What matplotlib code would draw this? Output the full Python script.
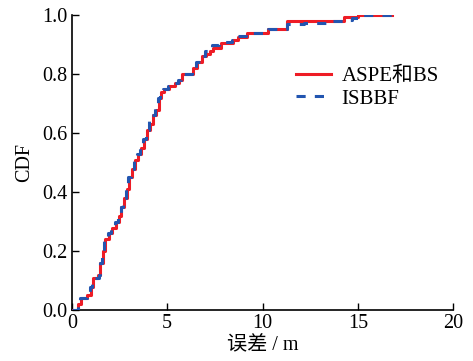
import matplotlib
matplotlib.use("Agg")
import matplotlib.pyplot as plt

plt.rcParams['font.family'] = ['Liberation Serif', 'Noto Sans CJK SC', 'DejaVu Sans']

aspe_x = [0, 0.3, 0.5, 0.8, 1.0, 1.1, 1.35, 1.45, 1.65, 1.75, 1.95, 2.1, 2.3, 2.45, 2.6, 2.75,
          2.9, 3.0, 3.15, 3.3, 3.45, 3.6, 3.8, 3.95, 4.1, 4.25, 4.4, 4.55, 4.65, 4.85, 5.1, 5.4,
          5.6, 5.75, 6.35, 6.55, 6.8, 7.05, 7.25, 7.4, 7.8, 8.45, 8.7, 9.2, 10.0, 10.3, 11.3,
          14.3, 15.0, 16.8]
aspe_y = [0, 0.02, 0.04, 0.05, 0.08, 0.11, 0.12, 0.16, 0.20, 0.24, 0.26, 0.28, 0.30, 0.32, 0.35, 0.38,
          0.41, 0.45, 0.48, 0.51, 0.53, 0.55, 0.58, 0.61, 0.63, 0.66, 0.68, 0.72, 0.74, 0.75, 0.76, 0.77,
          0.78, 0.80, 0.82, 0.84, 0.86, 0.87, 0.88, 0.89, 0.905, 0.915, 0.925, 0.94, 0.94, 0.952, 0.98,
          0.993, 1.0, 1.0]

isbbf_x = [0, 0.3, 0.45, 0.8, 0.95, 1.05, 1.4, 1.5, 1.6, 1.7, 1.9, 2.05, 2.25, 2.4, 2.55, 2.7,
           2.85, 2.95, 3.1, 3.25, 3.4, 3.55, 3.75, 3.9, 4.05, 4.2, 4.35, 4.5, 4.6, 4.8, 5.05, 5.35,
           5.55, 5.7, 6.3, 6.5, 6.75, 7.0, 7.2, 7.35, 7.7, 8.4, 8.65, 9.15, 10.0, 10.3, 11.3,
           12.2, 13.5, 14.3, 14.7, 15.0, 16.8]
isbbf_y = [0, 0.02, 0.04, 0.05, 0.08, 0.11, 0.12, 0.16, 0.20, 0.24, 0.26, 0.28, 0.30, 0.32, 0.35, 0.38,
           0.41, 0.45, 0.48, 0.51, 0.53, 0.56, 0.58, 0.61, 0.64, 0.66, 0.69, 0.72, 0.74, 0.75, 0.76, 0.77,
           0.78, 0.80, 0.82, 0.84, 0.86, 0.88, 0.89, 0.90, 0.91, 0.915, 0.93, 0.94, 0.945, 0.952, 0.97,
           0.975, 0.98, 0.985, 0.99, 1.0, 1.0]

xticks = [0, 5, 10, 15, 20]
yticks = [0.0, 0.2, 0.4, 0.6, 0.8, 1.0]

fig = plt.figure(figsize=(4.73, 3.61), dpi=100)
ax = fig.add_axes([0.152, 0.141, 0.806, 0.817])

ax.plot(aspe_x, aspe_y, drawstyle='steps-post', color='#ee1c25', lw=2.2, label='ASPE和BS', zorder=3)
ax.plot(isbbf_x, isbbf_y, drawstyle='steps-post', color='#2255b0', lw=2.2, ls=(0, (3, 3)),
        label='ISBBF', zorder=4)

ax.set_xlim(0, 20)
ax.set_ylim(0, 1.0)
ax.set_xticks(xticks)
ax.set_yticks(yticks)
ax.set_yticklabels([f"{v:.1f}" for v in yticks])
ax.tick_params(direction='in', labelsize=14.5, length=5, width=1)
ax.tick_params(axis='y', pad=3)
ax.tick_params(axis='x', pad=3)
for s in ['top', 'right']:
    ax.spines[s].set_visible(False)
for s in ['left', 'bottom']:
    ax.spines[s].set_linewidth(1.2)

ax.set_xlabel('误差 / m', fontsize=14.5, labelpad=2)
ax.set_ylabel('CDF', fontsize=14.5, labelpad=6)

ax.legend(loc='upper left', bbox_to_anchor=(0.565, 0.855), frameon=False, fontsize=15,
          handlelength=1.7, handletextpad=0.5, labelspacing=0.15, borderaxespad=0)

fig.savefig('out.png', dpi=100)
